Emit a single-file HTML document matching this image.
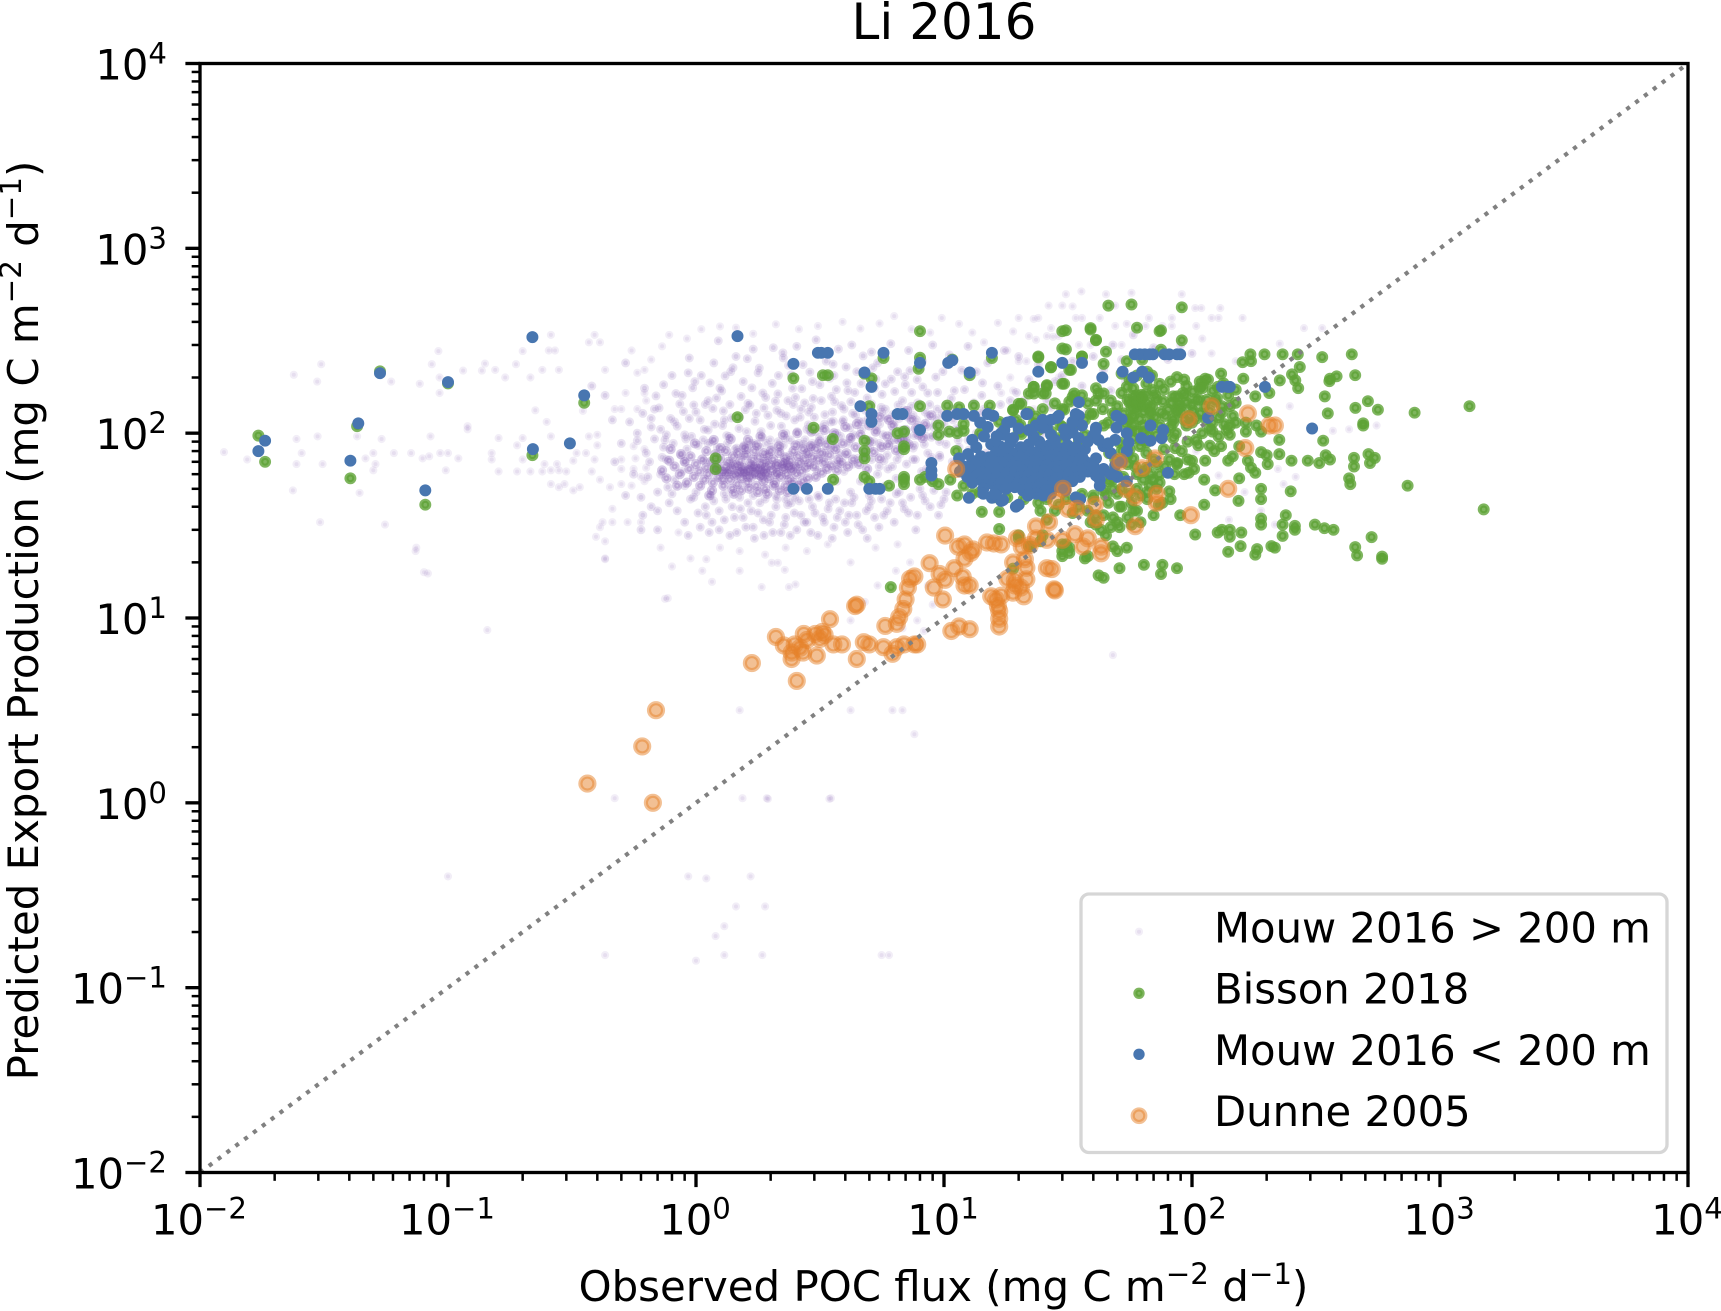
<!DOCTYPE html>
<html lang="en">
<head>
<meta charset="utf-8">
<title>Li 2016</title>
<style>
html,body{margin:0;padding:0;background:#fff;width:1721px;height:1311px;overflow:hidden}
svg{display:block}
text{font-family:"DejaVu Sans","Liberation Sans",sans-serif;fill:#000}
</style>
</head>
<body>
<svg id="chart" xmlns="http://www.w3.org/2000/svg" width="1721" height="1311" viewBox="0 0 1721 1311">
<rect x="0" y="0" width="1721" height="1311" fill="#fff"/>
<text x="944" y="39" font-size="50" text-anchor="middle">Li 2016</text>
<g id="marks"></g>
<g id="ticks"></g>
<rect x="200" y="63.5" width="1488" height="1109" fill="none" stroke="#000" stroke-width="3.33"/>
<text x="943.5" y="1301" font-size="41.9" text-anchor="middle">Observed POC flux (mg C m<tspan font-size="29.3" dy="-17">−2</tspan><tspan dy="17"> d</tspan><tspan font-size="29.3" dy="-17">−1</tspan><tspan dy="17">)</tspan></text>
<text transform="translate(38,620.5) rotate(-90)" font-size="41.9" text-anchor="middle">Predicted Export Production (mg C m<tspan font-size="29.3" dy="-17">−2</tspan><tspan dy="17"> d</tspan><tspan font-size="29.3" dy="-17">−1</tspan><tspan dy="17">)</tspan></text>
<g>
<rect x="1081" y="894" width="586" height="258.5" rx="8" ry="8" fill="#fff" fill-opacity=".8" stroke="#d6d6d6" stroke-width="3.33"/>
<g>
<circle cx="1139" cy="931.7" r="2" fill="#7e57b0" fill-opacity=".1" stroke="#7e57b0" stroke-opacity=".1" stroke-width="4.17"/>
<text x="1214" y="942.7" font-size="41.75">Mouw 2016 &gt; 200 m</text>
</g>
<g>
<circle cx="1139" cy="993.3" r="3.6" fill="#5ea336" fill-opacity=".8" stroke="#5ea336" stroke-opacity=".8" stroke-width="4.17"/>
<text x="1214" y="1003.7" font-size="41.75">Bisson 2018</text>
</g>
<g>
<circle cx="1139" cy="1054.3" r="3.6" fill="#4876b0" stroke="#4876b0" stroke-width="4.17"/>
<text x="1214" y="1065" font-size="41.75">Mouw 2016 &lt; 200 m</text>
</g>
<g>
<circle cx="1139" cy="1115.7" r="6.3" fill="#e6812a" fill-opacity=".5" stroke="#e6812a" stroke-opacity=".5" stroke-width="4.17"/>
<text x="1214" y="1126" font-size="41.75">Dunne 2005</text>
</g>
</g>
</svg>
<script>
const decades = [-2,-1,0,1,2,3,4];
const minorMultipliers = [2,3,4,5,6,7,8,9];
const xTickExponents = ["−2","−1","0","1","2","3","4"];
const yTickExponents = ["−2","−1","0","1","2","3","4"];
const identityLine = [0.01,10000];

const mouwDeepOuter = [[.0239,207],[.0308,236],[.0297,190],[.0915,278],[.086,236],[.0925,200],[.0925,165],[.077,185],[.059,190],[.115,218],[.137,218],[.141,238],[.155,220],[.17,200],[.215,200],[.188,236],[.2,278],[.24,220],[.28,220],[.26,340],[.255,280],[.27,280],[.37,310],[.39,340],[.41,310],[.43,220],[.55,280],[.225,133],[.25,115],[.12,109],[.12,105],[.085,96],[.054,93],[.0298,96],[.0245,93],[.0125,79],[.0155,72],[.0257,78],[.0245,68],[.0312,68],[.043,96],[.0465,73],[.05,78],[.051,68],[.05,63],[.0605,78],[.071,78],[.079,73],[.084,75],[.093,78],[.1,78],[.11,73],[.098,63],[.15,78],[.15,72],[.16,62],[.19,62],[.215,62],[.24,62],[.19,86],[.16,94],[.2,94],[.26,96],[.2,72],[.245,68],[.26,63],[.275,68],[.28,63],[.3,62],[.0237,49],[.044,47.5],[.0305,33],[.0557,32],[.0745,24],[.083,17.4],[.26,53],[.28,51],[.295,53],[.32,49],[.34,51],[.37,96],[.4,98],[.4,86],[.33,78],[.36,78],[.32,71],[.38,62],[.39,72],[.41,56],[.45,51],[.5,53],[.55,52],[.46,39],[.42,33],[.46,33],[.53,33],[.6,33],[.41,31],[.395,27.5],[.43,26],[.43,21],[.35,132],[.47,135],[.5,135],[.58,135],[.52,165],[.62,165],[.63,150],[.58,212],[.62,220],[.5,72],[.56,85],[.62,82],[.57,73],[.63,65],[.5,64],[.56,64],[.6,58],[.62,55],[1.5,3.17],[4.2,3.17],[6.2,3.17],[6.8,3.17],[7.6,2.35],[.47,1.06],[1.54,1.06],[1.93,1.06],[3.5,1.06],[48,6.3],[.77,12.8],[1.16,15.7],[1.84,14.7],[2.37,14.7],[2.52,15.2],[1.06,18],[1.5,18],[2.28,18.2],[2.02,19.9],[2.14,19.9],[.43,20.8],[1.1,20.8],[4.8,12.2],[4.2,9.7],[5.4,15],[6.4,18],[8.6,15],[9,11.8],[7.8,9.7],[6.8,8.8],[8.3,8.5],[.144,8.6],[.75,12.7],[.08,17.7],[.074,23],[.1,.4],[.93,.4],[1.1,.39],[1.66,.4],[1.9,.275],[1.45,.275],[1.3,.215],[1.2,.19],[1,.14],[1.3,.15],[1.85,.15],[.43,.15],[5.6,.15],[6,.15],[1.95,1.05],[3.45,1.05],[31,565],[35.8,585],[45,565],[57,575],[91,565],[26.4,490],[30,490],[33,485],[49,490],[103,475],[109,475],[130,475],[20,420],[24,420],[34,420],[36,420],[42.5,420],[67,420],[83,420],[120,420],[128,420],[160,420],[49,380],[54.6,390],[65,380],[76,380],[83,380],[104,380],[283,370],[335,370],[226,305],[110,325],[120,270],[150,245],[22,335],[23.5,320],[26,335],[27.5,332],[29,335],[35,300],[39,300],[52,300],[18,280],[20,245],[21.5,245],[29,200],[18.5,200],[17,165],[19,170],[23,135],[25,135],[248,140],[370,103],[430,105],[555,110],[216,32],[141,34],[163,48],[190,38],[234,53],[262,58],[128,59],[222,64],[104,80],[.72,24],[.85,29],[.95,21],[1.25,24],[1.5,23],[1.9,22],[2.3,24],[2.8,23],[3.4,25],[.8,19],[4.2,20],[5.3,24],[6.5,25],[7.3,20],[.66,250],[.73,295],[.78,340],[.92,325],[1.05,365],[1.25,378],[1.45,372],[1.7,345],[2.1,388],[2.6,365],[3.1,380],[3.9,400],[4.6,368],[5.5,392],[6.3,430],[7.4,365],[8.8,350],[9.8,420],[11.5,390],[13,350],[14.5,310],[16.5,395],[19,355],[23,415],[27,370]];

const mouwDeepMid = [[.62,175],[.68,135],[.72,105],[.75,92],[.66,120],[.8,205],[.88,160],[.94,255],[.99,190],[1.05,205],[1.12,150],[1.18,240],[1.25,175],[1.3,118],[1.38,215],[1.45,260],[1.55,190],[1.62,145],[1.7,285],[1.8,225],[1.86,165],[1.95,125],[2.05,290],[2.15,205],[2.25,255],[2.35,150],[2.45,175],[2.55,295],[2.7,235],[2.85,130],[2.95,190],[3.05,320],[3.2,150],[3.35,245],[3.5,115],[3.6,205],[3.75,285],[3.95,135],[4.1,170],[4.25,300],[4.45,215],[4.7,115],[4.9,155],[5.1,275],[5.4,240],[5.6,130],[5.8,185],[6.1,305],[6.5,215],[6.8,150],[7.2,280],[7.5,125],[7.8,195],[8.2,245],[8.6,165],[9,300],[9.4,135],[9.9,215],[10.5,265],[11,170],[11.8,130],[12.5,295],[13.5,215],[14.2,160],[15,240],[16.5,180],[17.5,280],[18.5,150],[20,260],[22,195],[24,235],[26,150],[28,190],[.74,84],[.82,115],[.9,98],[1,130],[1.08,105],[1.16,90],[1.28,110],[1.36,96],[1.5,122],[1.6,102],[1.75,128],[1.85,95],[2,110],[2.2,128],[2.3,100],[2.5,118],[2.65,135],[2.8,105],[3,122],[3.15,95],[3.3,112],[3.55,130],[3.7,100],[3.9,115],[4.2,95],[4.4,125],[4.65,105],[4.95,120],[5.2,90],[5.5,112],[5.8,135],[6.2,100],[6.6,120],[7,92],[7.4,140],[7.9,110],[8.4,130],[8.9,95],[9.4,120],[10,112],[10.7,135],[11.5,105],[12.5,120],[13.5,95],[14.5,135],[16,120],[.65,70],[.7,48],[.72,60],[.78,42],[.84,38],[.9,33],[.98,45],[1.04,31],[1.1,36],[1.18,43],[1.24,30],[1.3,34],[1.4,40],[1.46,29],[1.55,35],[1.62,42],[1.7,31],[1.78,37],[1.88,28],[1.98,33],[2.1,40],[2.2,29],[2.3,35],[2.42,42],[2.55,30],[2.65,36],[2.8,33],[2.95,40],[3.1,28],[3.25,35],[3.45,42],[3.6,31],[3.8,38],[4,33],[4.25,42],[4.45,36],[4.7,30],[5,40],[5.25,35],[5.6,44],[5.9,38],[6.3,33],[6.8,42],[7.2,37],[7.7,30],[8.2,46],[8.8,40],[9.5,36],[10,44],[4.2,48],[4.6,55],[5,46],[5.4,60],[5.8,52],[6.2,66],[6.6,48],[7,58],[7.5,72],[8,50],[8.5,64],[9,54],[9.6,76],[10.2,48],[10.8,70],[11.5,84],[12.5,92],[13.5,100],[4.3,68],[4.7,80],[5.1,72],[5.5,88],[5.9,76],[6.3,92],[6.7,82],[7.1,96],[7.6,86],[8.1,102],[8.6,78],[9.1,108],[9.6,90],[10.1,100],[3.7,55],[3.95,62],[4,76],[3.65,85],[3.4,92],[3.1,46],[3.3,78],[2.95,88],[2.75,92],[2.5,45],[2.3,44],[2.1,46],[1.9,44],[1.7,46],[1.5,45],[1.3,47],[1.15,46],[1,48],[.9,52],[.82,56],[.76,72],[.92,82],[1.02,86],[1.12,88],[1.22,84],[1.34,88],[1.44,82],[1.56,86],[1.66,88],[1.8,84],[1.92,88],[2.02,84],[2.15,90],[2.25,86],[2.4,92],[2.6,88],[2.9,84],[16,92],[17.5,110],[19,130],[21,150],[23,118],[25,175],[27,138],[30,205],[33,245],[36,180],[40,260],[44,220],[48,300],[52,250],[58,340],[33,145],[38,130],[42,152],[47,170],[54,190],[62,215],[70,290],[80,250],[90,300],[100,270],[35,95],[25,100],[.58,100],[.54,115],[.5,88],[.46,118],[.43,160],[.38,180],[.52,240],[.56,60],[.52,46],[.47,70],[.66,40],[.6,45],[.6,30],[.7,30],[.64,58],
[1.37,143],[.93,212],[2.71,87],[5.63,162],[.58,91],[3.39,271],[1.12,104],[7.74,118],[2.03,186],[4.49,73],[.71,137],[9.27,201],[1.61,253],[3.83,96],[6.41,57],[.84,109],[2.47,143],[12.6,81],[1.94,71],[5.17,226],[.97,176],[3.07,63],[8.33,87],[1.23,316],[6.87,134],[2.29,94],[4.06,187],[.77,51],[10.7,154],[1.73,116],[3.62,148],[.63,78],[7.06,68],[2.88,214],[5.36,104],[1.46,83],[13.9,128],[.89,131],[4.72,262],[2.14,163],[9.63,74],[1.08,71],[6.13,196],[3.22,107],[.69,159],[8.76,143],[1.83,102],[2.59,66],[11.8,219],[4.93,92],[1.31,204],[7.41,166],[3.49,83],[.81,88],[5.87,121],[2.36,233],[15.2,104],[1.04,118],[6.64,77],[2.97,154],[4.28,128],[.74,183],[9.06,97],[1.68,176],[3.74,68],[7.97,228],[1.17,136],[5.48,66],[2.21,109],[12.1,172],[.91,93],[4.58,143],[1.52,158],[8.12,62],[3.16,183],[6.29,112],[2.63,122],[.66,108],[10.2,87],[1.88,137],[4.17,107],[14.3,187],[1.27,169],[7.58,97],[3.57,236],[.86,144],[5.02,83],[2.09,149],[6.98,183],[1.41,226],[9.84,128],[2.78,78],[4.37,166],[1.14,187],[16.9,143],[3.31,126],[.79,120],[8.54,108],[5.73,71],[2.42,207],[1.58,134],[6.53,142],[3.93,118],[.96,96],[11.2,106],[2.18,82],[7.29,218],[4.82,133],[1.33,97],[18.4,118],[3.03,102],[.73,74],[5.24,175],[8.91,74],[1.78,212],[2.52,156],[6.06,89],[3.68,172],[1.09,143],[13.2,146],[4.12,88],[.83,164],[7.83,146],[2.31,124],[1.49,106],[9.41,166],[5.58,138],[2.84,111],[.61,128],[3.46,198],[6.73,104],[1.21,155],[12.9,66],[4.63,186],[1.99,92],[8.21,178],[3.27,72],[.94,120],[5.94,64],[2.67,174],[1.56,76],[7.16,122],[10.9,118],[4.21,148],[.76,98],[2.24,272],[6.33,168],[1.39,121],[3.86,141],[19.6,166],[5.11,144],[.87,76],[8.47,96],[2.92,138],[1.71,88],[7.51,83],[4.03,228],[1.19,112],[14.8,78],[3.11,88],[6.21,126],[.98,142],[2.56,102],[9.18,112],[5.31,196],[1.65,142],[4.54,116],[.68,93],[11.4,92],[3.52,158],[7.67,72],[2.12,133],[1.29,132],[6.94,202],[3.79,78],[.9,70],[5.68,98],[17.6,84],[2.39,76],[8.66,124],[4.31,98],[1.07,92],[2.74,146],[6.47,72],[1.91,156],[3.58,116],[.8,47],[.88,62],[.95,44],[1.02,37],[1.09,40],[1.16,33],[1.24,38],[1.32,44],[1.43,35],[1.51,39],[1.59,31],[1.67,38],[1.81,42],[1.87,34],[2.01,36],[2.12,44],[2.27,32],[2.34,41],[2.49,37],[2.61,43],[2.73,33],[2.86,44],[3.02,37],[3.13,45],[3.29,33],[3.41,39],[3.66,44],[3.71,35],[3.97,42],[4.13,36],[4.34,45],[4.51,32],[4.86,38],[5.09,43],[5.47,31],[5.72,36],[6.07,42],[6.42,47],[6.91,39],[7.34,45],[7.81,36],[8.39,43],[9.1,49],[9.72,41],[.7,38],[.61,36],[.93,28],[1.13,29],[1.37,28],[1.72,27],[2.04,29],[2.4,28],[2.9,29],[3.54,27],[4.09,29],[4.9,27]];

const mouwDeepCore = [[.82,66],[.86,60],[.9,70],[.94,64],[.98,58],[1,68],[1.03,62],[1.06,72],[1.08,56],[1.1,65],[1.12,60],[1.15,70],[1.17,54],[1.19,63],[1.21,67],[1.23,58],[1.25,73],[1.27,62],[1.29,52],[1.31,66],[1.33,60],[1.35,70],[1.37,56],[1.39,64],[1.41,75],[1.43,59],[1.45,67],[1.47,53],[1.49,62],[1.51,71],[1.53,57],[1.55,65],[1.57,60],[1.59,76],[1.61,54],[1.63,63],[1.65,68],[1.67,58],[1.69,72],[1.71,61],[1.73,66],[1.75,52],[1.77,64],[1.79,74],[1.81,59],[1.83,68],[1.85,62],[1.87,55],[1.89,70],[1.91,65],[1.93,60],[1.95,76],[1.97,57],[1.99,67],[2.02,63],[2.05,72],[2.08,54],[2.11,66],[2.14,61],[2.17,78],[2.2,58],[2.23,69],[2.26,64],[2.29,74],[2.32,60],[2.35,67],[2.38,56],[2.41,71],[2.44,63],[2.47,80],[2.5,66],[2.54,60],[2.58,75],[2.62,69],[2.66,62],[2.7,82],[2.74,72],[2.78,65],[2.82,78],[2.86,68],[2.9,85],[2.95,74],[3,66],[3.05,82],[3.1,72],[3.15,90],[3.2,78],[3.28,69],[3.36,86],[3.45,76],[3.55,92],[3.65,82],[3.75,72],[3.9,88],[4.05,78],[4.2,94],[4.4,84],[4.6,98],[4.8,76],[5,90],[5.3,102],[5.6,84],[5.9,96],[6.2,110],[6.6,92],[7,104],[7.4,118],[7.9,98],[8.4,112],[8.9,125],[.95,75],[1.1,80],[1.2,77],[1.32,80],[1.48,78],[1.6,82],[1.72,80],[1.88,78],[2,80],[.92,54],[1.04,52],[1.16,49],[1.28,56],[1.4,50],[1.52,49],[1.64,50],[1.78,48],[1.9,50],[2.06,52],[2.18,49],[2.3,52],[2.46,54],[2.6,52],[1.22,64],[1.36,62],[1.5,66],[1.58,62],[1.66,64],[1.74,60],[1.82,64],[1.9,62],[1.46,60],[1.54,62],[1.62,58],[1.7,66],[1.4,68],[1.3,62],[1.84,58],[2.1,60],[2.25,66],[2.4,65],[2.12,68],[2.3,70],
[.73,63],[.78,71],[.76,57],[.84,52],[.87,77],[1.13,46],[1.26,83],[1.42,47],[1.56,84],[1.76,86],[1.94,47],[2.16,85],[2.34,48],[2.52,86],[2.69,55],[2.83,57],[3.04,58],[3.22,61],[3.38,64],[3.52,67],[3.7,63],[3.86,69],[4.1,66],[4.3,72],[4.55,68],[4.9,64],[5.2,79],[5.5,73],[5.95,86],[6.4,81],[6.8,93],[7.2,87],[7.7,106],[8.2,94],[.79,82],[.99,88],[1.18,92],[1.38,93],[1.62,92],[1.82,96],[2.24,98],[2.56,100],[2.92,102],[3.3,104],[3.6,100],[4,108],[4.45,112],[5,110],[5.5,122],[6,118],[6.5,126],[7.1,132]];

const bisson2018 = [[.0172,97],[.0183,70],[.0404,57],[.043,109],[.0532,216],[.1,186],[.081,41],[.219,76],[.354,146],[1.47,122],[1500,38.7],[1315,140],[790,129],[740,52],[584,21.5],[584,20.9],[530,27.4],[463,21.8],[455,24.2],[455,206],[441,267],[383,203],[360,197],[358,191],[343,158],[335,258],[353,128],[456,137],[512,149],[562,134],[490,113],[490,110],[338,91],[293,71],[252,71],[250,48.5],[346,76],[360,72],[326,69],[450,73.5],[450,66],[515,77],[546,73.5],[522,69],[430,57],[435,53],[313,32],[342,30.6],[372,30],[260,31.5],[260,30],[239,36],[232,32],[232,27.8],[190,50],[190,44],[190,34.5],[190,32],[154,43],[112,56],[155,57],[113,71],[100,71],[106,86],[118,85.5],[131,85],[123,80],[140,71],[146,75],[168,71],[173,65],[180,61],[202,68],[190,79],[200,76],[225,77],[225,92],[190,102],[182,110],[200,130],[226,193],[205,165],[180,158],[160,242],[173,245],[172,267],[196,267],[232,267],[267,267],[272,228],[253,208],[261,193],[268,175],[161,197],[131,210],[113,197],[107.5,190],[110,175],[127,178],[87,201],[95,180],[84,158],[88,145],[94,160],[100,142],[107,152],[84,119],[87,129],[95,110],[100,114],[114,119],[121,114],[132,129],[142,140],[150,146],[146,124],[150,114],[142,110],[165,102],[121,102],[132,140],[155,85],[142,98],[165,114],[89.6,36],[103,28.3],[127,29],[132,30],[142,30],[142,27.5],[158,29],[140,22.8],[157,24.5],[180,22],[183,23.6],[209,24.5],[216,24],[112,41],[124,49],[93,60],[97,61],[87,69],[51,18.6],[64,19.4],[76,19.4],[87,18.6],[75,17.3],[44,16.5],[30,23],[32,24],[38,21.6],[48,24.4],[50,23],[54.6,24],[51,31],[45,28],[41,32],[41,36],[43,30],[39,33],[58,38],[57,42],[52,40],[57,32],[30,25],[25,28],[20,28],[22.4,24.4],[46,490],[57,497],[91,480],[31,360],[39,370],[60,372],[74,356],[75,360],[41,318],[91,318],[31,284],[45,276],[75,283],[24,257],[36,260],[54.6,245],[27,227],[32,220],[44,237],[63,250],[30,185],[23,178],[26,180],[23,164],[25.7,164],[41,175],[42,164],[44,164],[41,150],[43.7,135],[33.5,164],[30,135],[20.5,144],[19,134],[23,113],[20.3,111],[20.5,99],[39,127],[50,140],[44,110],[46,114],[27,102],[30,108],[54.6,178],[58,158],[62.5,161],[65.5,185],[74,185],[69.6,171],[58,175],[56,146],[61.7,143],[67.5,134],[58,124],[61.7,119],[58,110],[63.5,110],[60,102],[66.5,98],[78,124],[76.5,149],[84,114],[65.5,78],[58,73],[61.7,85],[65.5,65],[69.6,56],[63.5,56],[60,60],[74,54],[81,48.5],[87,68],[74,60],[49.6,60],[47.7,56],[52.8,58],[45,62],[46.3,78],[43.7,87],[51,89],[58,94],[65.5,89],[71.8,98],[84,94],[85.5,83],[67.5,52],[73.5,41],[51,40],[60,38],[60,160],[65,162],[60,140],[64,130],[59,133],[71,160],[68,115],[64,102],[56,119],[87,158],[92,165],[90,140],[95,146],[87,134],[104,152],[111,185],[107,175],[116,195],[121,170],[81,72],[70,72],[55,68],[52,50],[62,46],[66,48],[56,82],[48,50],[1.2,73],[1.2,64],[2.98,107],[3.56,93],[3.57,56],[2.47,198],[3.25,206],[3.4,206],[4.78,210],[5.1,198],[5.7,255],[8,356],[8,256],[7.9,223],[10.8,250],[12.7,206],[15.6,255],[30,356],[39,364],[41,320],[30,287],[24,260],[36,260],[27,228],[32.5,220],[5,140],[8,140],[10.3,141],[11.5,138],[13.2,141],[15.3,141],[20,144],[19,133],[22,164],[25,164],[23,178],[26,182],[30.5,185],[33,157],[30.5,134],[4.78,91],[4.78,80],[4.78,73],[4.78,58],[5,55],[6,52],[6.5,100],[6.9,102],[6.9,85],[6.9,82],[6.9,58],[6.9,56],[6.9,53],[8,56],[8.4,58],[9,55],[9.5,53],[9.5,110],[9.5,98],[10.5,102],[11.3,100],[12,112],[12,103],[11.2,80],[10.6,56],[11.3,46],[14.2,37.5],[16.7,37.5],[16.7,30.3],[24.5,38],[14,100],[19.5,118],[20,102],[16.7,115],[23.4,123],[29.5,110],[37,98],[40,127],[6.1,14.7],[20,27],[22,24.4],[19,18.5],[24.5,26],[26,34],[31,25],[30,21.6],[32,22.5],[37,21],[42,17],[14,48],[18,45],[24,42],[29,41],[35,40],[40,44],[45,46],[12,52],[50,47],[28,38],[33,37],[46,42],
[52,165],[55,152],[57,137],[53,128],[55,118],[59,148],[63,155],[66,146],[69,140],[72,152],[75,130],[71,122],[64,140],[68,128],[62,92],[57,104],[54,112],[74,110],[78,102],[82,108],[86,100],[80,134],[83,146],[91,130],[93,118],[98,124],[101,132],[104,120],[108,128],[112,140],[118,132],[124,148],[128,122],[135,112],[138,104],[128,96],[118,106],[110,100],[104,92],[96,90],[91,80],[96,72],[102,64],[77,82],[72,68],[64,62],[59,66],[55,76],[52,80],[49,72],[68,60],[72,50],[60,50],[56,47],[78,66],[85,60],[46,55],[44,49],[38,38],[44,36],[48,35],[50,33],[47,31],[55,35],[62,33],[66,44],[70,36],[76,42],[82,44],[40,46],[36,47],[31,44],[26,44],[21,44],[16,45],[13,47],[56,195],[60,205],[52,210],[69,205],[82,190],[66,215],[77,172],[93,195],[101,168],[115,152],[126,155],[140,160],[150,172],[134,186],[36,160],[38,145],[34,125],[28,145],[25,135],[22,130],[32,148],[47,150],[48,128],[37,118],[33,108],[24,104],[29,94],[35,90]];

const mouwShallow = [[.0172,80],[.0183,91],[.0404,71],[.0435,113],[.0532,211],[.1,189],[.081,49],[.219,331],[.22,82],[.31,88],[.354,160],[1.47,335],[2.47,237],[3.1,272],[3.2,272],[3.4,272],[4.78,213],[5.1,178],[5.7,272],[8,240],[10.4,240],[10.8,248],[12.7,213],[15.6,272],[24,215],[30,240],[36,240],[4.6,140],[5.1,127],[5.1,115],[6.5,127],[6.8,127],[8,104],[10.3,124],[11.3,127],[12,127],[13.2,124],[14,114],[15,127],[15.8,124],[17.5,104],[17.5,98],[18.6,115],[21.5,127],[26,107],[29,124],[35,147],[35,124],[33,115],[36,110],[33,101],[41,105],[40,97],[2.47,50],[2.8,50],[3.4,50],[5,50],[5.3,50],[5.5,50],[8.9,69],[8.9,63],[8.9,59],[43.5,200],[52.5,215],[58,200],[63,215],[67,200],[58.8,267],[61.7,267],[64.5,267],[67.5,267],[69.6,267],[77.5,267],[81,267],[87,267],[89.6,267],[139,178],[132,178],[142,178],[197,178],[305,106],[116,121],[80,61],[54.6,55],[28.5,121],[34,127],[21.7,127],[18,114],[25,107],[32,103],[33,114],[41,107],[40.6,100],[49.6,124],[52,119],[49.6,107],[49,92],[54.6,100],[55.5,89],[54.6,80],[62.5,94],[68,110],[68,91],[76.5,104],[75.5,94],[44,85],[41,73],[27,98],[35.4,44],[20,41],[17,43],[38,62],[42.5,56],[43,62],[41,59],[42.5,52],[12.6,44.7],[15.6,44.7],[17.3,43.5],[19.5,40],[34,45],[13,92],[14.5,96],[15.5,87],[16.8,85],[18.5,88],[20.4,84],[22,87],[24.2,90],[26.5,86],[29,83],[31.5,86],[34,84],[37,82],[16.2,79],[17.4,81],[18.8,78],[21,80],[22.6,79],[24.3,81],[26.1,79],[27.4,80],[29.3,78],[31.2,80],[33.4,79],[35.5,77],[14.1,75],[15.2,74],[16.6,76],[19.1,75],[20.3,74],[22.2,76],[24.1,74],[25.6,75],[27.2,76],[28.7,74],[30.4,75],[32.3,74],[34.2,76],[36.1,74],[13,71],[14.6,70],[15.6,71],[17.1,70],[18.2,72],[19.6,70],[21.2,71],[22.7,70],[24.2,72],[25.3,70],[27.1,71],[29.2,70],[31.3,71],[33.1,70],[35.2,72],[37.3,70],[12,66],[13.4,67],[14.8,65],[16,66],[17.4,67],[18.8,65],[20,66],[21.5,67],[23,65],[24.6,66],[26,67],[27.6,65],[29.1,66],[30.8,67],[32.6,65],[34.4,66],[36.2,67],[38.1,65],[40.2,66],[11.6,62],[12.9,63],[14,61],[15.3,62],[16.6,63],[18,61],[19.2,62],[20.7,63],[22.3,61],[23.8,62],[25.4,63],[27,61],[28.6,62],[30.2,63],[32,61],[33.8,62],[35.6,63],[44,64],[12.4,58],[13.6,59],[15,57],[16.3,58],[17.7,59],[19,57],[20.4,58],[21.9,59],[23.4,57],[25,58],[26.6,59],[28.2,57],[29.9,58],[31.7,59],[33.5,57],[35.3,58],[13,54],[14.3,55],[15.7,53],[17,54],[18.4,55],[19.8,53],[21.2,54],[22.8,55],[24.4,53],[26,54],[27.7,55],[29.4,53],[31,54],[32.9,55],[14.4,50],[16.4,49],[17.8,50],[19.3,51],[20.8,49],[22.3,50],[24,51],[25.7,49],[27.4,50],[29,51],[30.9,49],[14.4,47],[16,47],[21.8,46],[23.6,47],[25.2,46],[27,47],[12.5,77],[11.5,73],[13.5,84],[17,100],[20,106],[23,96],[15,108],[19,94],[28,92],[31,97],[35,94],[38,90],[42,92],[46,88],[47,78],[49,67],[52,70],[47,60],[50,58],[23.5,110],[27,118],[30.5,105],[25,118],[22,104],[16.3,96]];

const dunne2005 = [[.365,1.27],[.607,2.02],[.69,3.17],[.67,1],[1.68,5.7],[2.55,4.57],[2.1,7.9],[2.26,7.1],[2.43,6],[2.43,6.5],[2.63,6.9],[2.72,8.2],[2.8,7.6],[3.07,6.26],[3.03,8.2],[3.23,8.4],[3.16,7.7],[3.47,9.85],[3.58,7.2],[3.88,7.2],[4.38,11.6],[4.45,11.8],[4.45,6],[4.75,7.4],[5,7.2],[5.7,6.95],[6.2,6.4],[5.8,9.06],[6.45,6.95],[6.9,7.2],[7.6,7.2],[7.8,7.2],[8.75,19.8],[9.6,17.3],[10.1,27.9],[7.3,16.3],[7.6,16.8],[7.15,14.6],[7,12.6],[6.85,11.2],[6.6,10.1],[6.45,9.3],[9.1,14.6],[9.9,12.6],[10.1,16.1],[11,18.6],[12.1,20.9],[11.4,24.3],[12.1,25],[12.8,22.5],[13.1,23.5],[11.9,16.7],[12.7,15],[10.7,8.5],[11.5,9],[12.7,8.7],[12.1,15],[15.5,13.1],[16.2,12.6],[17,13.2],[16.5,11.6],[16.7,10.9],[16.7,9.9],[16.7,9],[14.9,25.6],[15.9,25.3],[17,25],[20.4,14.6],[21.5,16.2],[21,13.1],[19.3,15],[21.5,18.7],[22.2,24.8],[23.5,27],[26,18.6],[27.8,14.3],[11.2,64],[30.2,50],[120,140],[168,128],[97,119],[216,110],[205,110],[164,83],[99,36],[140,50],[71,73],[51,70],[63,64.6],[54,50],[59,45],[72,47],[72,42],[59,31.4],[40.6,41],[31.6,39],[34.4,39],[28.3,43],[23.5,31.3],[26.5,33],[41,34.2],[33.7,28.4],[38,27],[36.3,24.4],[43,24.3],[43,22.4],[26,26.5],[30,26.5],[19.7,27],[20.6,24.2],[21.2,20.8],[19,20],[27.2,18.4],[28,14.1],[18,16.3],[19.3,16],[19,13.7],[2.5,7.2],[2.7,6.5],[3.3,8.1]];

const PLOT_LEFT = 200, PLOT_RIGHT = 1688, PLOT_TOP = 63.5, PLOT_BOTTOM = 1172.5;
const LOG_MIN = -2, LOG_MAX = 4;
const SVG_NS = "http://www.w3.org/2000/svg";
function xScale(v){ return PLOT_LEFT + (Math.log10(v) - LOG_MIN) / (LOG_MAX - LOG_MIN) * (PLOT_RIGHT - PLOT_LEFT); }
function yScale(v){ return PLOT_BOTTOM - (Math.log10(v) - LOG_MIN) / (LOG_MAX - LOG_MIN) * (PLOT_BOTTOM - PLOT_TOP); }

const marksLayer = document.getElementById("marks");
const ticksLayer = document.getElementById("ticks");

function drawSeries(points, seriesName, markName, color, radius, alpha){
  const group = document.createElementNS(SVG_NS, "g");
  
  
  points.forEach(function(p){
    const el = document.createElementNS(SVG_NS, "circle");
    
    
    el.setAttribute("cx", xScale(p[0]).toFixed(1));
    el.setAttribute("cy", yScale(p[1]).toFixed(1));
    el.setAttribute("r", radius);
    el.setAttribute("fill", color);
    el.setAttribute("fill-opacity", alpha);
    el.setAttribute("stroke", color);
    el.setAttribute("stroke-opacity", alpha);
    el.setAttribute("stroke-width", 4.17);
    group.appendChild(el);
  });
  marksLayer.appendChild(group);
}

drawSeries(mouwDeepOuter, "mouw-deep-sparse-series", "mouw-deep-point", "#7e57b0", 2, 0.1);
drawSeries(mouwDeepMid, "mouw-deep-mid-series", "mouw-deep-point", "#7e57b0", 2.4, 0.16);
drawSeries(mouwDeepCore, "mouw-deep-core-series", "mouw-deep-point", "#7e57b0", 3, 0.3);
drawSeries(bisson2018, "bisson-series", "bisson-point", "#5ea336", 3.9, 0.8);
drawSeries(mouwShallow, "mouw-shallow-series", "mouw-shallow-point", "#4876b0", 3.9, 1);
drawSeries(dunne2005, "dunne-series", "dunne-point", "#e6812a", 7, 0.5);

const line = document.createElementNS(SVG_NS, "line");


line.setAttribute("x1", xScale(identityLine[0]));
line.setAttribute("y1", yScale(identityLine[0]));
line.setAttribute("x2", xScale(identityLine[1]));
line.setAttribute("y2", yScale(identityLine[1]));
line.setAttribute("stroke", "#808080");
line.setAttribute("stroke-width", 4.17);
line.setAttribute("stroke-dasharray", "4.17 6.88");
marksLayer.appendChild(line);

function tickLine(x1, y1, x2, y2, width, name){
  const el = document.createElementNS(SVG_NS, "line");
  
  
  el.setAttribute("x1", x1);
  el.setAttribute("y1", y1);
  el.setAttribute("x2", x2);
  el.setAttribute("y2", y2);
  el.setAttribute("stroke", "#000");
  el.setAttribute("stroke-width", width);
  ticksLayer.appendChild(el);
}
function tickText(x, y, size, str, name){
  const el = document.createElementNS(SVG_NS, "text");
  
  
  el.setAttribute("x", x);
  el.setAttribute("y", y);
  el.setAttribute("font-size", size);
  el.textContent = str;
  ticksLayer.appendChild(el);
}
const BASE_WIDTH = 53, DIGIT_WIDTH = 18.6, MINUS_WIDTH = 24.4;
function expWidth(s){ return s.length > 1 ? MINUS_WIDTH + DIGIT_WIDTH : DIGIT_WIDTH; }

decades.forEach(function(d, i){
  const v = Math.pow(10, d);
  const xp = xScale(v), yp = yScale(v);
  tickLine(xp, PLOT_BOTTOM, xp, PLOT_BOTTOM + 14.6, 3.33, "x-major-tick");
  tickLine(PLOT_LEFT, yp, PLOT_LEFT - 14.6, yp, 3.33, "y-major-tick");
  const xe = xTickExponents[i];
  const total = BASE_WIDTH + expWidth(xe);
  const xStart = xp - total / 2 - 1;
  tickText(xStart, 1234.3, 41.67, "10", "x-tick-label");
  tickText(xStart + BASE_WIDTH, 1218.5, 29.17, xe, "x-tick-exponent");
  const ye = yTickExponents[i];
  const expStart = 167 - expWidth(ye);
  const yBase = yp + 16;
  tickText(expStart - BASE_WIDTH, yBase, 41.67, "10", "y-tick-label");
  tickText(expStart, yBase - 16, 29.17, ye, "y-tick-exponent");
  if (d < LOG_MAX) {
    minorMultipliers.forEach(function(m){
      const mv = m * v;
      const mx = xScale(mv), my = yScale(mv);
      tickLine(mx, PLOT_BOTTOM, mx, PLOT_BOTTOM + 8.33, 2.5, "x-minor-tick");
      tickLine(PLOT_LEFT, my, PLOT_LEFT - 8.33, my, 2.5, "y-minor-tick");
    });
  }
});
</script>
</body>
</html>
